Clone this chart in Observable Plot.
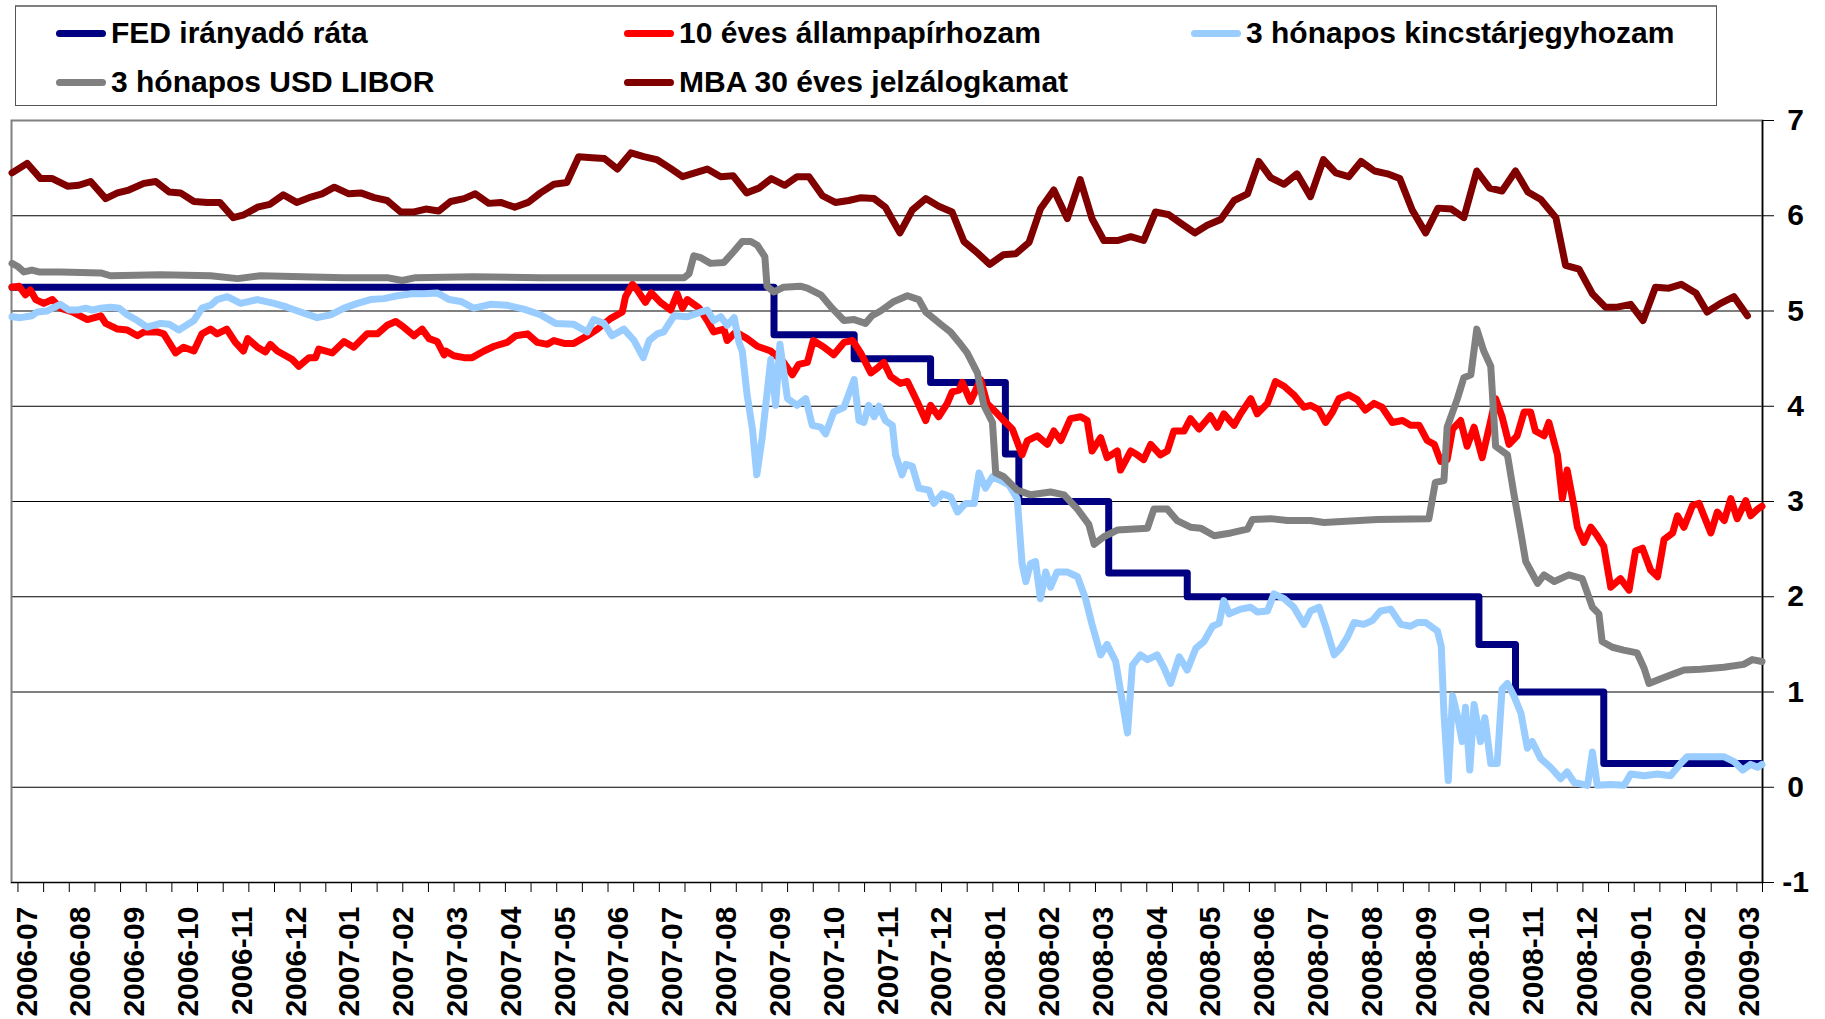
<!DOCTYPE html>
<html>
<head>
<meta charset="utf-8">
<script src="https://cdn.jsdelivr.net/npm/d3@7"></script>
<script src="https://cdn.jsdelivr.net/npm/@observablehq/plot@0.6"></script>
<style>
  html, body { margin: 0; padding: 0; background: #fff; }
  body { width: 1825px; height: 1019px; overflow: hidden; font-family: "Liberation Sans", Arial, sans-serif; }
  #legend { position: relative; z-index: 2; margin: 5px 0 0 15px; width: 1700px; height: 98px; border: 1px solid #555; border-top: 2px solid #808080; box-sizing: content-box; background: #fff; }
  .item { position: absolute; display: flex; align-items: center; font-weight: bold; font-size: 30px; color: #000; white-space: nowrap; }
  .sw { width: 50px; height: 7px; border-radius: 3.5px; margin-right: 5px; }
  #chart svg { display: block; overflow: visible; }
</style>
</head>
<body>
<div id="legend"></div>
<div id="chart"></div>
<script>
// x positions are in axis months: 0 = "2006-07" label, 32 = "2009-03" label
const monthLabels = ["2006-07","2006-08","2006-09","2006-10","2006-11","2006-12","2007-01","2007-02","2007-03","2007-04","2007-05","2007-06","2007-07","2007-08","2007-09","2007-10","2007-11","2007-12","2008-01","2008-02","2008-03","2008-04","2008-05","2008-06","2008-07","2008-08","2008-09","2008-10","2008-11","2008-12","2009-01","2009-02","2009-03"];
const yTicks = [-1, 0, 1, 2, 3, 4, 5, 6, 7];

const seriesNames = ["FED irányadó ráta", "10 éves állampapírhozam", "3 hónapos kincstárjegyhozam", "3 hónapos USD LIBOR", "MBA 30 éves jelzálogkamat"];
const seriesColors = ["#000080", "#FF0000", "#99CCFF", "#808080", "#800000"];

const fedRate = [[-0.53,5.25],[13.63,4.75],[15.12,4.5],[16.54,4.25],[17.93,3.5],[18.18,3.0],[19.85,2.25],[21.31,2.0],[26.73,1.5],[27.41,1.0],[29.05,0.25],[31.96,0.25]];

const treasury10y = [[-0.53,5.25],[-0.40,5.26],[-0.28,5.17],[-0.19,5.22],[-0.09,5.12],[0.06,5.08],[0.22,5.12],[0.37,5.03],[0.59,4.99],[0.87,4.91],[1.12,4.95],[1.21,4.87],[1.43,4.81],[1.61,4.80],[1.80,4.74],[1.92,4.78],[2.17,4.78],[2.29,4.76],[2.51,4.56],[2.66,4.62],[2.85,4.58],[3.00,4.76],[3.16,4.81],[3.28,4.76],[3.46,4.81],[3.62,4.67],[3.77,4.58],[3.85,4.71],[4.03,4.62],[4.18,4.57],[4.27,4.65],[4.40,4.58],[4.68,4.49],[4.80,4.42],[4.99,4.51],[5.11,4.51],[5.17,4.60],[5.42,4.56],[5.64,4.68],[5.82,4.62],[6.07,4.76],[6.26,4.76],[6.44,4.85],[6.60,4.89],[6.75,4.83],[6.94,4.74],[7.09,4.81],[7.22,4.71],[7.37,4.68],[7.50,4.54],[7.53,4.58],[7.68,4.53],[7.87,4.51],[8.02,4.51],[8.24,4.58],[8.43,4.63],[8.67,4.67],[8.83,4.74],[9.05,4.76],[9.23,4.67],[9.42,4.65],[9.54,4.69],[9.73,4.66],[9.91,4.66],[10.16,4.74],[10.35,4.81],[10.59,4.92],[10.81,4.99],[10.87,5.15],[11.00,5.28],[11.09,5.22],[11.24,5.09],[11.35,5.19],[11.52,5.09],[11.71,5.01],[11.83,5.18],[11.93,5.03],[12.02,5.12],[12.24,5.03],[12.39,4.90],[12.51,4.78],[12.70,4.81],[12.76,4.69],[12.92,4.78],[13.13,4.71],[13.32,4.63],[13.57,4.58],[13.81,4.46],[13.97,4.33],[14.09,4.44],[14.25,4.46],[14.36,4.69],[14.56,4.62],[14.74,4.54],[14.93,4.67],[15.09,4.69],[15.24,4.56],[15.43,4.35],[15.55,4.40],[15.67,4.46],[15.80,4.31],[15.98,4.24],[16.11,4.26],[16.29,4.05],[16.45,3.85],[16.54,4.01],[16.69,3.89],[16.85,4.03],[16.94,4.15],[17.07,4.17],[17.13,4.25],[17.28,4.05],[17.47,4.28],[17.59,4.03],[17.75,3.94],[17.90,3.85],[18.06,3.76],[18.24,3.49],[18.34,3.64],[18.52,3.69],[18.71,3.60],[18.83,3.74],[18.96,3.64],[19.14,3.87],[19.33,3.89],[19.45,3.85],[19.54,3.53],[19.70,3.67],[19.82,3.46],[20.01,3.53],[20.07,3.33],[20.26,3.53],[20.38,3.49],[20.50,3.44],[20.63,3.60],[20.81,3.49],[20.94,3.53],[21.06,3.74],[21.25,3.74],[21.37,3.87],[21.53,3.76],[21.74,3.90],[21.87,3.78],[21.99,3.92],[22.18,3.80],[22.30,3.92],[22.49,4.08],[22.61,3.92],[22.80,4.03],[22.95,4.26],[23.11,4.21],[23.29,4.12],[23.48,3.99],[23.60,4.01],[23.76,3.96],[23.88,3.83],[24.01,3.94],[24.13,4.08],[24.31,4.12],[24.47,4.07],[24.62,3.96],[24.78,4.03],[24.93,3.99],[25.12,3.83],[25.31,3.85],[25.46,3.80],[25.62,3.80],[25.77,3.64],[25.90,3.60],[26.02,3.42],[26.14,3.44],[26.24,3.76],[26.39,3.85],[26.51,3.58],[26.64,3.78],[26.79,3.46],[26.95,3.85],[27.04,4.08],[27.16,3.89],[27.29,3.60],[27.44,3.69],[27.57,3.94],[27.69,3.94],[27.78,3.74],[27.94,3.69],[28.03,3.83],[28.19,3.49],[28.28,3.03],[28.37,3.33],[28.50,2.94],[28.56,2.73],[28.68,2.57],[28.81,2.73],[28.93,2.64],[29.05,2.53],[29.18,2.10],[29.36,2.19],[29.52,2.07],[29.64,2.48],[29.77,2.51],[29.92,2.28],[30.05,2.21],[30.17,2.60],[30.33,2.67],[30.42,2.85],[30.54,2.73],[30.70,2.96],[30.82,2.98],[31.04,2.67],[31.16,2.89],[31.29,2.80],[31.41,3.03],[31.53,2.82],[31.69,3.01],[31.78,2.85],[31.91,2.92],[31.99,2.95]];

const tbill3m = [[-0.53,4.94],[-0.37,4.93],[-0.16,4.95],[-0.06,4.99],[0.12,5.00],[0.22,5.03],[0.37,5.07],[0.53,5.01],[0.68,5.01],[0.84,5.03],[0.96,5.01],[1.12,5.03],[1.30,5.04],[1.46,5.03],[1.61,4.96],[1.80,4.90],[1.98,4.83],[2.23,4.87],[2.39,4.86],[2.57,4.80],[2.85,4.90],[3.00,5.03],[3.16,5.06],[3.28,5.12],[3.47,5.15],[3.72,5.08],[4.03,5.12],[4.34,5.08],[4.58,5.04],[4.83,4.99],[5.14,4.93],[5.39,4.96],[5.64,5.03],[5.89,5.08],[6.13,5.12],[6.38,5.13],[6.63,5.16],[6.88,5.18],[7.12,5.18],[7.37,5.19],[7.50,5.15],[7.59,5.12],[7.81,5.10],[8.05,5.03],[8.36,5.07],[8.67,5.06],[8.98,5.02],[9.29,4.96],[9.57,4.87],[9.91,4.86],[10.16,4.78],[10.28,4.91],[10.47,4.87],[10.62,4.74],[10.84,4.81],[11.03,4.69],[11.20,4.51],[11.31,4.69],[11.46,4.76],[11.58,4.78],[11.77,4.95],[12.02,4.94],[12.27,4.99],[12.39,5.01],[12.51,4.90],[12.64,4.94],[12.76,4.85],[12.89,4.93],[12.98,4.67],[13.04,4.58],[13.13,4.12],[13.23,3.76],[13.31,3.28],[13.41,3.67],[13.57,4.49],[13.66,4.01],[13.74,4.65],[13.88,4.08],[14.06,4.01],[14.22,4.08],[14.34,3.80],[14.50,3.78],[14.59,3.71],[14.74,3.94],[14.93,3.99],[15.12,4.28],[15.21,3.85],[15.30,3.83],[15.39,4.01],[15.49,3.89],[15.58,4.00],[15.70,3.85],[15.83,3.80],[15.89,3.49],[16.01,3.28],[16.08,3.39],[16.20,3.37],[16.32,3.14],[16.51,3.12],[16.60,2.98],[16.76,3.08],[16.91,3.05],[17.04,2.89],[17.19,2.98],[17.35,2.98],[17.44,3.30],[17.56,3.14],[17.69,3.26],[17.84,3.22],[18.00,3.17],[18.15,3.03],[18.24,2.35],[18.31,2.16],[18.40,2.35],[18.49,2.37],[18.58,1.98],[18.68,2.26],[18.77,2.10],[18.89,2.26],[19.08,2.26],[19.27,2.21],[19.42,1.98],[19.54,1.71],[19.70,1.39],[19.82,1.50],[19.98,1.32],[20.10,0.91],[20.20,0.57],[20.29,1.28],[20.44,1.39],[20.57,1.34],[20.75,1.39],[20.88,1.25],[21.00,1.09],[21.16,1.37],[21.31,1.23],[21.47,1.46],[21.62,1.53],[21.78,1.69],[21.90,1.72],[21.99,1.96],[22.09,1.82],[22.30,1.87],[22.49,1.89],[22.61,1.84],[22.80,1.85],[22.92,2.03],[23.11,1.98],[23.29,1.89],[23.48,1.71],[23.60,1.85],[23.76,1.89],[23.88,1.69],[24.04,1.39],[24.16,1.46],[24.28,1.57],[24.41,1.73],[24.59,1.71],[24.75,1.75],[24.90,1.85],[25.09,1.87],[25.28,1.71],[25.46,1.69],[25.59,1.73],[25.74,1.73],[25.96,1.64],[26.03,1.48],[26.08,0.78],[26.16,0.07],[26.24,0.96],[26.33,0.75],[26.42,0.48],[26.48,0.84],[26.56,0.18],[26.64,0.87],[26.76,0.48],[26.84,0.73],[26.95,0.25],[27.07,0.25],[27.16,1.03],[27.26,1.09],[27.38,0.96],[27.51,0.78],[27.63,0.41],[27.72,0.48],[27.88,0.30],[28.06,0.21],[28.25,0.09],[28.37,0.16],[28.50,0.05],[28.75,0.02],[28.84,0.37],[28.93,0.02],[29.18,0.03],[29.43,0.02],[29.55,0.14],[29.80,0.12],[30.05,0.14],[30.29,0.12],[30.48,0.25],[30.60,0.32],[30.85,0.32],[31.10,0.32],[31.29,0.32],[31.47,0.27],[31.63,0.18],[31.78,0.24],[31.91,0.21],[31.99,0.24]];

const libor3m = [[-0.53,5.50],[-0.43,5.47],[-0.31,5.41],[-0.16,5.43],[-0.03,5.41],[0.37,5.41],[1.12,5.40],[1.30,5.37],[2.23,5.38],[3.16,5.37],[3.66,5.34],[4.09,5.37],[5.64,5.35],[6.44,5.35],[6.72,5.32],[6.97,5.35],[8.05,5.36],[9.29,5.35],[10.53,5.35],[11.96,5.35],[12.05,5.39],[12.14,5.58],[12.27,5.56],[12.45,5.50],[12.70,5.51],[12.89,5.63],[13.04,5.73],[13.20,5.73],[13.32,5.69],[13.46,5.57],[13.50,5.26],[13.63,5.20],[13.81,5.25],[14.12,5.26],[14.25,5.24],[14.50,5.17],[14.71,5.03],[14.93,4.90],[15.12,4.91],[15.33,4.87],[15.45,4.95],[15.61,5.00],[15.86,5.10],[16.11,5.16],[16.32,5.12],[16.45,4.99],[16.73,4.86],[16.91,4.78],[17.07,4.67],[17.22,4.56],[17.41,4.35],[17.53,4.01],[17.69,3.83],[17.75,3.30],[17.90,3.26],[18.15,3.12],[18.40,3.07],[18.77,3.10],[19.02,3.07],[19.27,2.92],[19.48,2.76],[19.58,2.55],[19.76,2.63],[20.01,2.70],[20.57,2.72],[20.69,2.92],[20.94,2.92],[21.12,2.80],[21.37,2.73],[21.56,2.72],[21.81,2.64],[22.12,2.67],[22.43,2.71],[22.52,2.81],[22.86,2.82],[23.17,2.80],[23.60,2.80],[23.85,2.78],[24.84,2.81],[25.80,2.82],[25.92,3.20],[26.08,3.22],[26.14,3.78],[26.33,4.08],[26.45,4.30],[26.58,4.33],[26.69,4.81],[26.82,4.58],[26.95,4.42],[27.04,3.58],[27.26,3.49],[27.38,3.08],[27.51,2.67],[27.60,2.37],[27.82,2.14],[27.94,2.23],[28.13,2.16],[28.40,2.23],[28.65,2.19],[28.84,1.89],[28.96,1.82],[29.02,1.53],[29.21,1.47],[29.42,1.44],[29.67,1.41],[29.80,1.25],[29.89,1.09],[30.11,1.14],[30.35,1.19],[30.54,1.23],[30.85,1.24],[31.28,1.26],[31.65,1.29],[31.81,1.34],[31.99,1.32]];

const mba30y = [[-0.53,6.45],[-0.25,6.55],[0.00,6.39],[0.22,6.39],[0.50,6.31],[0.71,6.32],[0.93,6.36],[1.21,6.18],[1.43,6.24],[1.64,6.27],[1.92,6.34],[2.14,6.36],[2.39,6.25],[2.60,6.24],[2.85,6.15],[3.10,6.14],[3.33,6.14],[3.58,5.98],[3.78,6.01],[4.03,6.09],[4.26,6.12],[4.51,6.22],[4.76,6.14],[4.99,6.19],[5.23,6.23],[5.46,6.30],[5.73,6.23],[5.95,6.24],[6.20,6.19],[6.44,6.16],[6.69,6.04],[6.94,6.04],[7.16,6.07],[7.40,6.05],[7.62,6.15],[7.87,6.18],[8.08,6.23],[8.33,6.13],[8.55,6.14],[8.81,6.09],[9.06,6.14],[9.29,6.24],[9.54,6.33],[9.78,6.35],[10.00,6.62],[10.25,6.61],[10.48,6.60],[10.72,6.49],[10.97,6.66],[11.21,6.62],[11.45,6.59],[11.70,6.50],[11.93,6.41],[12.16,6.45],[12.39,6.49],[12.64,6.41],[12.87,6.42],[13.12,6.24],[13.35,6.29],[13.58,6.39],[13.83,6.32],[14.06,6.41],[14.28,6.41],[14.53,6.21],[14.77,6.14],[15.02,6.16],[15.25,6.19],[15.49,6.18],[15.70,6.09],[15.97,5.82],[16.20,6.06],[16.45,6.18],[16.69,6.10],[16.94,6.04],[17.16,5.73],[17.41,5.61],[17.64,5.49],[17.89,5.59],[18.12,5.60],[18.37,5.72],[18.58,6.07],[18.83,6.27],[19.08,5.97],[19.32,6.38],[19.54,5.97],[19.76,5.74],[20.01,5.74],[20.26,5.78],[20.50,5.74],[20.72,6.04],[20.97,6.01],[21.22,5.91],[21.45,5.82],[21.68,5.90],[21.93,5.96],[22.18,6.16],[22.43,6.23],[22.64,6.57],[22.86,6.40],[23.11,6.33],[23.35,6.44],[23.60,6.20],[23.84,6.59],[24.07,6.45],[24.31,6.41],[24.54,6.57],[24.79,6.47],[25.03,6.44],[25.26,6.39],[25.49,6.06],[25.74,5.82],[25.97,6.08],[26.22,6.07],[26.45,5.98],[26.69,6.47],[26.93,6.29],[27.16,6.26],[27.41,6.47],[27.64,6.25],[27.88,6.17],[28.16,5.98],[28.34,5.48],[28.59,5.44],[28.84,5.18],[29.08,5.04],[29.30,5.04],[29.55,5.07],[29.78,4.90],[30.01,5.25],[30.26,5.24],[30.49,5.28],[30.76,5.19],[30.97,4.99],[31.22,5.08],[31.47,5.15],[31.72,4.95]];

const seriesData = [fedRate, treasury10y, tbill3m, libor3m, mba30y];

// Legend
const legendPos = [[40, 26], [608, 26], [1175, 26], [40, 75], [608, 75]];
const legend = document.getElementById("legend");
seriesNames.forEach((name, i) => {
  const it = document.createElement("div");
  it.className = "item";
  it.style.left = legendPos[i][0] + "px";
  it.style.top = (legendPos[i][1] - 18) + "px";
  it.style.height = "36px";
  const sw = document.createElement("div");
  sw.className = "sw";
  sw.style.background = seriesColors[i];
  const tx = document.createElement("span");
  tx.textContent = name;
  it.appendChild(sw);
  it.appendChild(tx);
  legend.appendChild(it);
});

// Axis tick marks below the plot (every ~0.477 axis month)
const xTickCount = 68;
const xTicks = d3.range(xTickCount + 1).map(k => 32 - k * (32.42 / xTickCount));

const lineMarks = seriesData.map((data, i) => Plot.line(data, {
  x: d => d[0], y: d => d[1],
  stroke: seriesColors[i], strokeWidth: 7,
  strokeLinejoin: "round", strokeLinecap: "round",
  curve: i === 0 ? "step-after" : "linear"
}));

const chart = Plot.plot({
  width: 1825,
  height: 914,
  marginTop: 14,
  marginBottom: 138,
  marginLeft: 11,
  marginRight: 63,
  x: { domain: [-0.54, 32], axis: null },
  y: { domain: [-1, 7], axis: null },
  style: { fontFamily: "'Liberation Sans', Arial, sans-serif", fontWeight: "bold", fontSize: "30px", color: "#000", background: "#fff", overflow: "visible" },
  marks: [
    Plot.ruleY(d3.range(0, 7), { stroke: "#000", strokeWidth: 1 }),
    Plot.frame({ stroke: "#808080", strokeWidth: 2 }),
    Plot.ruleY([-1], { stroke: "#000", strokeWidth: 1 }),
    Plot.ruleX([32], { stroke: "#000", strokeWidth: 1.5 }),
    Plot.axisX(xTicks, { tickSize: 10, tickFormat: () => "", stroke: "#000", strokeWidth: 1, label: null }),
    Plot.axisY(yTicks, { anchor: "right", tickSize: 11, tickFormat: () => "", stroke: "#000", strokeWidth: 1, label: null }),
    Plot.text(yTicks, { y: d => d, text: d => String(d), frameAnchor: "right", dx: 33, textAnchor: "middle", fontSize: 30, fontWeight: "bold", fill: "#000" }),
    Plot.text(monthLabels, { x: (d, i) => i, text: d => d, frameAnchor: "bottom", dy: 24, dx: -4, rotate: -90, textAnchor: "end", fontSize: 30, fontWeight: "bold", fill: "#000" }),
    ...lineMarks
  ]
});
document.getElementById("chart").appendChild(chart);
</script>
</body>
</html>
